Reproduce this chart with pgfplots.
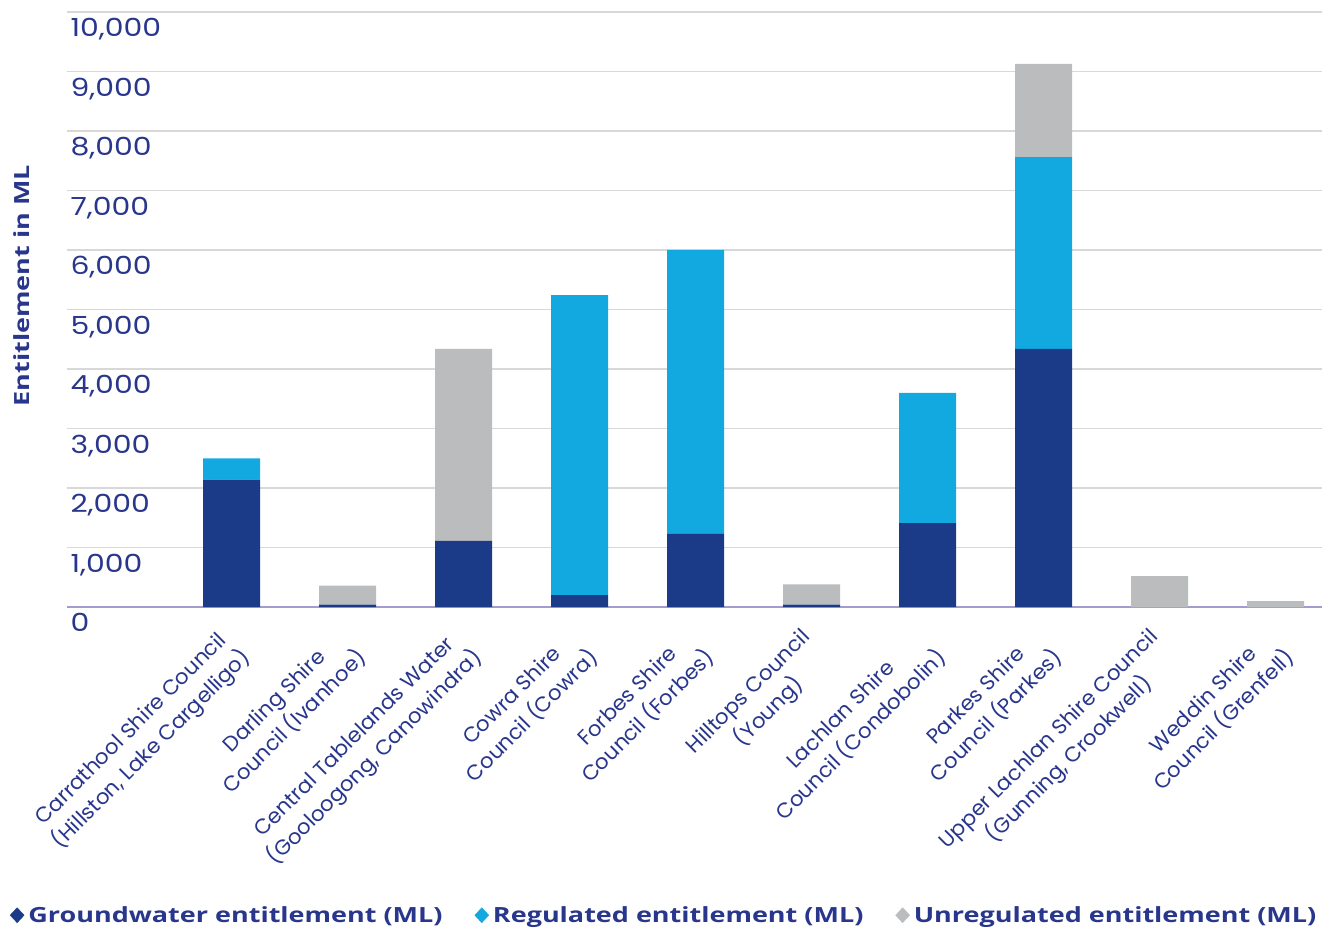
\documentclass[border=0pt]{standalone}
\usepackage{fontspec}
\setmainfont{Poppins}[FakeStretch=1.2]
\newfontfamily\tickfont{Poppins}[FakeStretch=1.02]
\newfontfamily\legfont{Open Sans}[FakeStretch=1.29]
\usepackage{pgfplots}
\pgfplotsset{compat=1.18}
\definecolor{navy}{RGB}{27,58,135}
\definecolor{lblue}{RGB}{18,169,225}
\definecolor{lgray}{RGB}{187,188,190}
\definecolor{txt}{RGB}{40,54,140}
\definecolor{gridc}{RGB}{216,216,216}
\definecolor{axc}{RGB}{164,156,207}
\begin{document}
\begin{tikzpicture}
\begin{axis}[
  name=ax,
  scale only axis, width=1255bp, height=595bp,
  xmin=-1.42, xmax=9.40, ymin=0, ymax=10000,
  ybar stacked, bar width=57bp,
  xtick={0,...,9},
  xticklabels={{Carrathool Shire Council\\(Hillston, Lake Cargelligo)},
    {Darling Shire\\Council (Ivanhoe)},
    {Central Tablelands Water\\(Gooloogong, Canowindra)},
    {Cowra Shire\\Council (Cowra)},
    {Forbes Shire\\Council (Forbes)},
    {Hilltops Council\\(Young)},
    {Lachlan Shire\\Council (Condobolin)},
    {Parkes Shire\\Council (Parkes)},
    {Upper Lachlan Shire Council\\(Gunning, Crookwell)},
    {Weddin Shire\\Council (Grenfell)}},
  x tick label style={xshift=-12bp, yshift=-15bp, rotate=45, anchor=north east, align=center,
    font=\tickfont\fontsize{21}{29}\selectfont, text=txt},
  ytick={0,1000,...,10000},
  yticklabel style={anchor=north west, font=\fontsize{25}{29}\selectfont, text=txt, xshift=0bp, yshift=-3bp},
  /pgf/number format/.cd, 1000 sep={,}, assume math mode=true, /pgfplots/.cd,
  scaled y ticks=false,
  ymajorgrids, grid style={color=gridc, line width=1.5bp},
  major tick length=0pt,
  axis x line*=bottom, axis y line*=left,
  x axis line style={color=axc, line width=2bp, -},
  y axis line style={draw=none},
  ylabel={Entitlement in ML},
  ylabel style={at={(axis description cs:-0.036,0.54)}, anchor=center, rotate=0,
    font=\legfont\bfseries\fontsize{21}{25}\selectfont, text=txt},
  legend columns=3,
  legend style={draw=none, fill=none, at={(axis description cs:-0.048,-0.518)}, anchor=west,
    font=\legfont\bfseries\fontsize{21}{25}\selectfont, text=txt,
    /tikz/every even column/.append style={column sep=30bp},
    /tikz/every odd column/.append style={column sep=2bp}},
  legend cell align=left,
]
\addplot[fill=navy, draw=none, forget plot] coordinates {(0,2140) (1,40) (2,1110) (3,200) (4,1230) (5,40) (6,1410) (7,4340) (8,0) (9,0)};
\addplot[fill=lblue, draw=none, forget plot] coordinates {(0,360) (1,0) (2,0) (3,5040) (4,4770) (5,0) (6,2190) (7,3220) (8,0) (9,0)};
\addplot[fill=lgray, draw=none, forget plot] coordinates {(0,0) (1,320) (2,3230) (3,0) (4,0) (5,340) (6,0) (7,1570) (8,520) (9,100)};
\addlegendimage{legend image code/.code={\fill[navy] (0bp,0bp) -- (7bp,7.5bp) -- (14bp,0bp) -- (7bp,-7.5bp) -- cycle;}}
\addlegendentry{Groundwater entitlement (ML)}
\addlegendimage{legend image code/.code={\fill[lblue] (0bp,0bp) -- (7bp,7.5bp) -- (14bp,0bp) -- (7bp,-7.5bp) -- cycle;}}
\addlegendentry{Regulated entitlement (ML)}
\addlegendimage{legend image code/.code={\fill[lgray] (0bp,0bp) -- (7bp,7.5bp) -- (14bp,0bp) -- (7bp,-7.5bp) -- cycle;}}
\addlegendentry{Unregulated entitlement (ML)}
\end{axis}
\pgfresetboundingbox
\path (ax.south west) ++(-67bp,-324bp) rectangle ++(1335bp,931bp);
\end{tikzpicture}
\end{document}
